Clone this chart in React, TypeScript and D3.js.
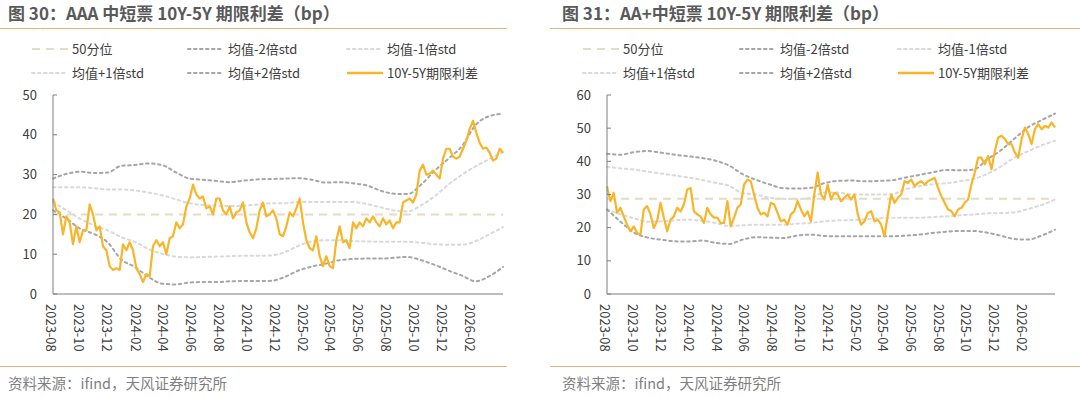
import React from 'react';
import * as d3 from 'd3';

// x axis (every other month)
const xTickLabels = [
  '2023-08', '2023-10', '2023-12', '2024-02', '2024-04', '2024-06', '2024-08', '2024-10',
  '2024-12', '2025-02', '2025-04', '2025-06', '2025-08', '2025-10', '2025-12', '2026-02',
];
const dateStart = '2023-08-01';
const dateEnd = '2026-04-10';

// 图30 AAA
const aaaSpread = [
  24, 21, 20.5, 15, 19.5, 18, 12.5, 17, 13, 16, 16, 22.5, 20, 16, 17, 12, 11, 7, 6, 6.5,
  6, 12.5, 11, 13, 11, 6.5, 5, 3, 5, 4.5, 12, 13.5, 12, 13, 10, 14, 14.5, 18, 16.5, 17.5,
  22, 24, 27.5, 25, 24, 24.5, 21.5, 22, 20, 24, 24, 21, 20, 22, 19, 20.5, 21, 23, 18, 15.5,
  14, 16.5, 21, 23, 19.5, 20, 21,
  19, 15, 14.5, 17, 20.5, 19.5, 21.5, 24, 18, 13.5, 11.5, 11, 14.5, 9.5, 7, 9.5, 7, 6.5, 13.5, 17,
  13, 13.5, 11.5, 18, 16.5, 18, 17, 19, 18, 19.5, 18, 17, 19, 17.5, 18.5, 16.5, 18, 18, 23, 23.5,
  24, 23, 25, 31, 32.5, 30, 30.2, 31, 30, 29, 34, 36.5, 36.5, 34.5, 34, 34.5, 36.5, 38.5, 41.5, 43.5,
  40.5, 38, 36.5, 36.8, 35.5, 33.5, 34, 36.5, 35.5,
];
const aaaP50 = 20;
const aaaUp2 = [
  29, 30.2, 30.75, 30.4, 30.5, 32.2, 32.4, 32.8, 32.4, 30.6, 29, 28.7, 28.4, 28.1, 28.5, 28.8, 28.9,
  29, 29.1, 28.7, 28, 28.1, 27.8, 27.3, 26, 25.2, 25.1, 27.5, 31, 34, 37.2, 42.5, 44.7, 45.3,
];
const aaaUp1 = [
  26.8, 26.8, 26.8, 26.6, 26.25, 26.25, 26, 25.5, 24.8, 23.8, 22.8, 22.4, 22.2, 22.1, 22.2, 22.5, 22.8,
  22.8, 23.1, 23.1, 23.1, 23.1, 23.1, 22.6, 21.8, 21, 20.75, 22.3, 24.6, 27.5, 30, 32.1, 33.9, 35.6,
];
const aaaLow1 = [
  23.1, 21, 18.9, 17.25, 16, 14.3, 13.1, 11.3, 10.1, 9.4, 9.2, 9.3, 9.4, 9.5, 9.6, 9.6, 9.7,
  10.5, 12.1, 13.2, 13.5, 13.5, 13.3, 13.2, 13.1, 13.1, 13.1, 12.9, 12.5, 12.4, 12.4, 13.3, 15, 16.8,
];
const aaaLow2 = [
  21, 18.9, 16.4, 15.1, 13, 8.7, 6.8, 4.3, 2.6, 2.4, 2.9, 3, 3, 3.2, 3.25, 3.25, 3.3,
  4.3, 5.9, 6.9, 7.6, 8.5, 8.8, 8.9, 8.9, 9.1, 9.3, 8.5, 7.3, 5.9, 4.6, 3.2, 4.5, 6.8,
];

// 图31 AA+
const aapSpread = [
  32.5, 28, 30.5, 24.5, 26, 23.4, 20.9, 18.9, 20.4, 18.4, 17.9, 25.5, 26.5, 24, 19.9, 22, 27.5, 23, 18.9, 22.4,
  23.4, 26, 24.9, 27, 31.5, 32, 24.9, 24, 23.4, 21.4, 26, 24, 23, 23, 21.4, 21.4, 28, 20.4, 23, 26,
  27, 33, 34.5, 34, 30, 26, 24, 24.5, 23.4, 27.5, 27, 24.5, 21.9, 22.4, 20.9, 24, 24.9, 28, 25.5, 23.4,
  24.9, 21.9, 30, 36.6,
  30, 28.5, 33, 28.5, 30.5, 30, 28, 29, 30, 28.5, 30, 24, 20.9, 21.9, 24.4, 25, 21.9, 22.4, 20.9, 17.4,
  24, 30, 27.5, 29, 30, 34, 33.5, 34.5, 32.5, 33.5, 34, 33, 34, 34.5, 35, 32, 29.5, 27.5, 25.5, 25,
  23.4, 25.5, 26, 27.5, 28.5, 33, 36.6, 41.1, 41.1, 39.1, 41.6, 37.6, 43.1, 47.2, 47.7, 46.7, 45.2, 45.2, 42.6, 41.1,
  46.7, 50.2, 48.2, 45.2, 49.7, 51.2, 49.7, 50.7, 50.2, 51.7, 50.2,
];
const aapP50 = 28.7;
const aapUp2 = [
  42.3, 42, 42.8, 43.1, 42.6, 42, 41.5, 41, 40.2, 38.7, 36.1, 34.4, 33, 31.9, 31.8, 32, 33.4,
  34.1, 34.2, 34, 34.1, 34.3, 35.1, 35.9, 36.7, 37.4, 37.3, 37.5, 40.6, 43.3, 46.8, 50.2, 52.4, 54.4,
];
const aapUp1 = [
  38.3, 37.9, 37.5, 36.9, 36.3, 35.7, 35.1, 34.4, 33.5, 32.6, 30.4, 30, 29, 28.7, 28.6, 29, 30.6,
  30.6, 30, 30, 30, 30.1, 31.6, 32.5, 33.1, 33.4, 34, 34.7, 36.2, 38.4, 41.1, 43, 44.8, 46.2,
];
const aapLow1 = [
  25.5, 24, 22.8, 21.8, 21.9, 22.2, 22.4, 22.1, 21.4, 20.5, 20.7, 20.9, 20.9, 20.9, 21.2, 21.4, 21.9,
  22.2, 22.3, 22.5, 22.8, 23, 23, 23, 23.2, 23.4, 23.7, 24, 24.3, 24.4, 24.6, 25.6, 26.8, 28.5,
];
const aapLow2 = [
  25.5, 21.8, 18.5, 17, 16.4, 15.9, 15.8, 16.1, 15.4, 15.1, 16.4, 17.1, 17, 16.9, 17.6, 17.9, 17.5,
  17.4, 17.4, 17.4, 17.4, 17.4, 17.6, 17.9, 18.4, 18.8, 19, 19, 18.5, 17.6, 16.6, 16.4, 17.6, 19.4,
];

const FONT = '"Noto Sans CJK SC", "Noto Sans", sans-serif';

const STYLES: Record<string, { stroke: string; width: number; dash?: string; cap?: string }> = {
  p50: { stroke: '#e6dcc4', width: 2, dash: '8,6', cap: 'butt' },
  sd2: { stroke: '#a6a6a6', width: 2, dash: '2.5,3.5', cap: 'round' },
  sd1: { stroke: '#d9d9d9', width: 2, dash: '2.5,3.5', cap: 'round' },
  spread: { stroke: '#f9b52a', width: 2.2 },
};

const legendItems = [
  { label: '50分位', key: 'p50' },
  { label: '均值-2倍std', key: 'sd2' },
  { label: '均值-1倍std', key: 'sd1' },
  { label: '均值+1倍std', key: 'sd1' },
  { label: '均值+2倍std', key: 'sd2' },
  { label: '10Y-5Y期限利差', key: 'spread' },
];

const parseDay = d3.timeParse('%Y-%m-%d');
const parseMonth = d3.timeParse('%Y-%m');
const t0 = parseDay(dateStart) as Date;
const t1 = parseDay(dateEnd) as Date;
const evenDates = (n: number) =>
  d3.range(n).map((i) => new Date(+t0 + (i / (n - 1)) * (+t1 - +t0)));

function Panel(props: any) {
  const { left, right, axisX0, axisX1, yMax, title, titleX, legendX, spread, p50, up2, up1, low1, low2 } = props;
  const yTop = 95, yBot = 294;
  const x = d3.scaleTime().domain([t0, t1]).range([axisX0, axisX1]);
  const y = d3.scaleLinear().domain([0, yMax]).range([yBot, yTop]);

  const band = (vals: number[]) => {
    const ds = evenDates(vals.length);
    return d3.line<number>().x((_, i) => x(ds[i])).y((v) => y(v)).curve(d3.curveMonotoneX)(vals) || '';
  };
  const spreadDates = evenDates(spread.length);
  const spreadPath = d3.line<number>().x((_, i) => x(spreadDates[i])).y((v) => y(v))(spread) || '';

  const pathEl = (d: string, key: string, k: string) => {
    const s = STYLES[key];
    return (
      <path key={k} d={d} fill="none" stroke={s.stroke} strokeWidth={s.width}
        strokeDasharray={s.dash} strokeLinecap={s.cap as any} strokeLinejoin="round" />
    );
  };

  return (
    <g>
      <text x={titleX} y={20} fontSize={17} fontWeight="bold" fill="#595959" fontFamily={FONT}>{title}</text>
      <line x1={left} x2={right} y1={28.5} y2={28.5} stroke="#ebb07a" strokeWidth={1} />

      {legendItems.map((it, i) => {
        const col = i % 3, row = Math.floor(i / 3);
        const lx = legendX[col], ly = 49 + row * 24;
        const s = STYLES[it.key];
        return (
          <g key={it.label}>
            <line x1={lx} x2={lx + 36} y1={ly} y2={ly} stroke={s.stroke} strokeWidth={it.key === 'spread' ? 2.5 : s.width}
              strokeDasharray={s.dash} strokeLinecap={s.cap as any} />
            <text x={lx + 40} y={ly} dy="0.35em" fontSize={13} fill="#404040" fontFamily={FONT}>{it.label}</text>
          </g>
        );
      })}

      {pathEl(band(up2), 'sd2', 'u2')}
      {pathEl(band(up1), 'sd1', 'u1')}
      {pathEl(band(low1), 'sd1', 'l1')}
      {pathEl(band(low2), 'sd2', 'l2')}
      {pathEl(`M${axisX0},${y(p50)}H${axisX1}`, 'p50', 'p50')}
      {pathEl(spreadPath, 'spread', 'sp')}

      {/* axes */}
      <line x1={axisX0} x2={axisX0} y1={yTop} y2={yBot} stroke="#7f7f7f" />
      <line x1={axisX0} x2={axisX1} y1={yBot} y2={yBot} stroke="#7f7f7f" />
      {y.ticks(yMax / 10).map((v) => (
        <g key={v}>
          <line x1={axisX0} x2={axisX0 + 4} y1={y(v)} y2={y(v)} stroke="#7f7f7f" />
          <text x={axisX0 - 16} y={y(v)} dy="0.35em" textAnchor="end" fontSize={13} fill="#404040" fontFamily={FONT}>{v}</text>
        </g>
      ))}
      {xTickLabels.map((lab) => {
        const px = x(parseMonth(lab) as Date);
        return (
          <text key={lab} transform={`translate(${px - 2},${yBot + 10}) rotate(90)`} dy="0.35em"
            fontSize={13} fill="#404040" fontFamily={FONT}>{lab}</text>
        );
      })}

      <line x1={left} x2={right} y1={366.5} y2={366.5} stroke="#ebb07a" strokeWidth={1} />
      <text x={titleX} y={389} fontSize={14.5} fill="#7f7f7f" fontFamily={FONT}>资料来源：ifind，天风证券研究所</text>
    </g>
  );
}

export default function App() {
  return (
    <svg width={1080} height={397} style={{ position: 'absolute', left: 0, top: 0, background: '#fff' }}>
      <Panel left={0} right={507} axisX0={53} axisX1={503} yMax={50} titleX={8}
        title="图 30：AAA 中短票 10Y-5Y 期限利差（bp）" legendX={[32, 188, 347]}
        spread={aaaSpread} p50={aaaP50} up2={aaaUp2} up1={aaaUp1} low1={aaaLow1} low2={aaaLow2} />
      <Panel left={550} right={1080} axisX0={607} axisX1={1055} yMax={60} titleX={562}
        title="图 31：AA+中短票 10Y-5Y 期限利差（bp）" legendX={[583, 740, 898]}
        spread={aapSpread} p50={aapP50} up2={aapUp2} up1={aapUp1} low1={aapLow1} low2={aapLow2} />
    </svg>
  );
}
